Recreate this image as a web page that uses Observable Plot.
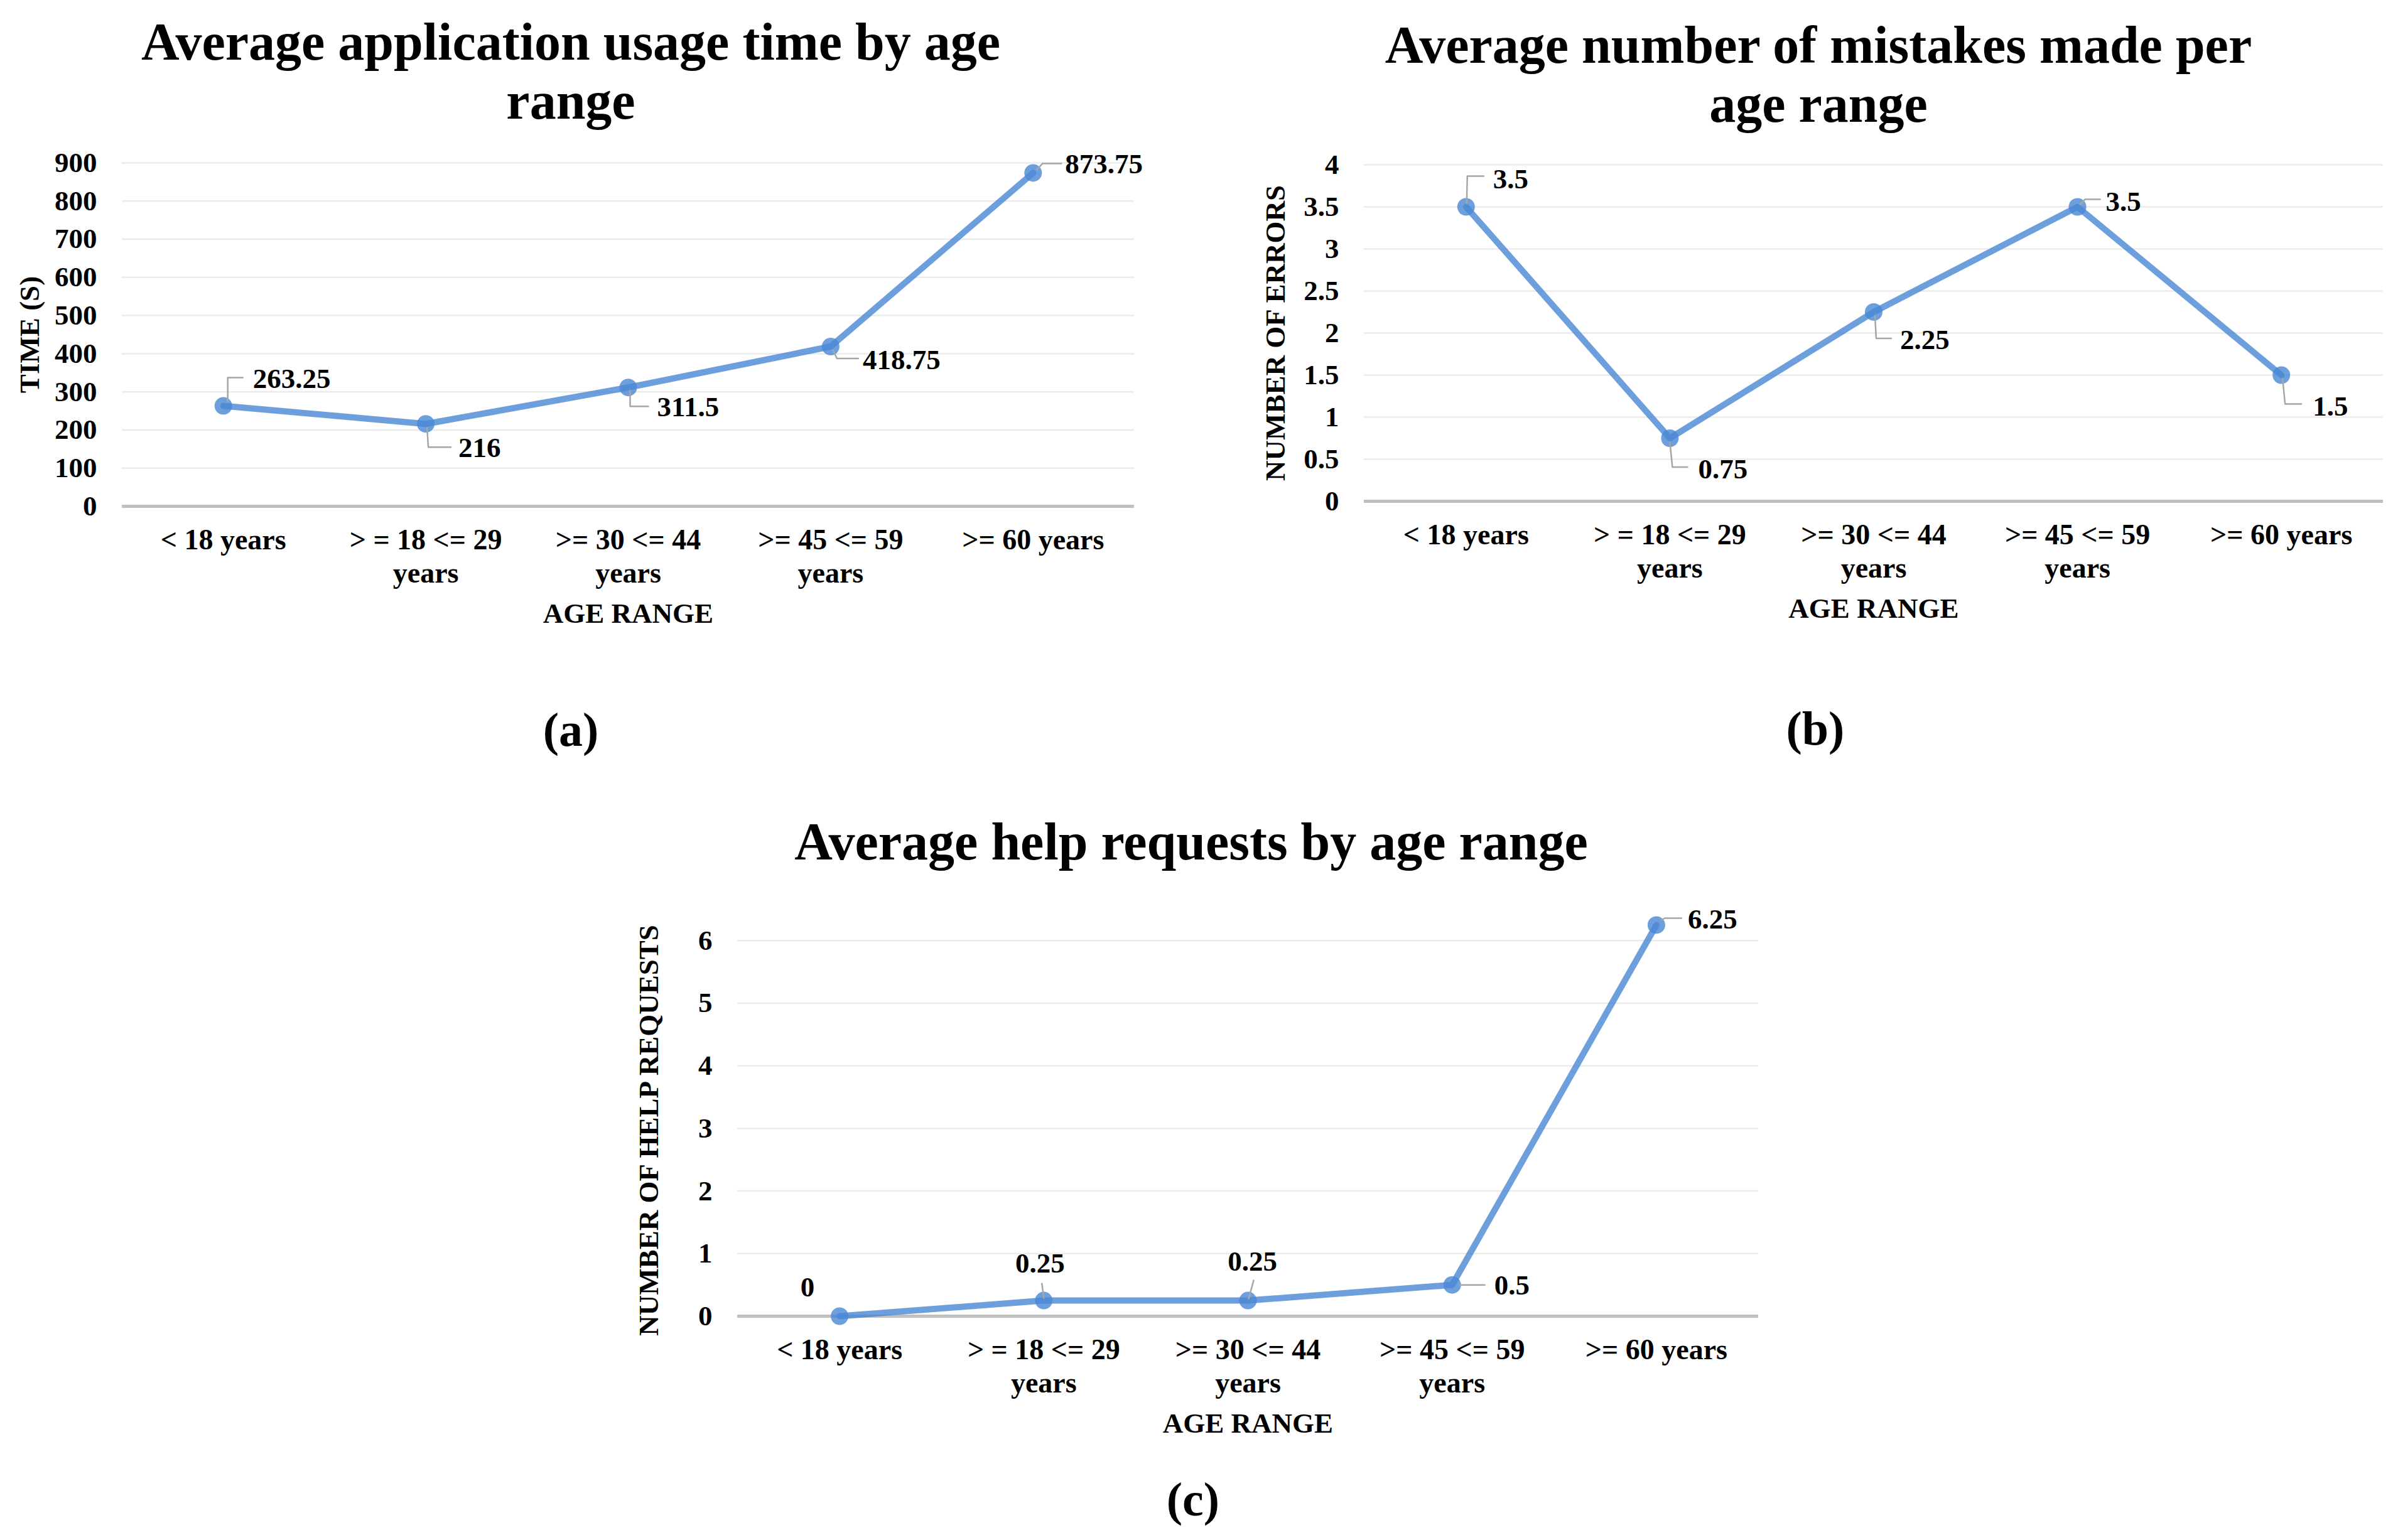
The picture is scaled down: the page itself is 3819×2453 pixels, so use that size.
<!DOCTYPE html>
<html><head><meta charset="utf-8">
<script src="https://cdn.jsdelivr.net/npm/d3@7"></script>
<script src="https://cdn.jsdelivr.net/npm/@observablehq/plot@0.6"></script>
<style>
html,body{margin:0;padding:0;background:#fff;}
#page{position:relative;width:3819px;height:2453px;background:#fff;font-family:"Liberation Serif","Times New Roman",serif;font-weight:bold;color:#000;overflow:hidden}
.title{position:absolute;width:2000px;text-align:center;font-size:84px;line-height:94px;white-space:nowrap}
.tag{position:absolute;width:400px;font-size:76px;line-height:76px;text-align:center}
.panel{position:absolute}
</style></head><body><div id="page"></div>
<script>
// ---- data ----
const categories = ["< 18 years", "> = 18 <= 29\nyears", ">= 30 <= 44\nyears", ">= 45 <= 59\nyears", ">= 60 years"];
const usageTime = [263.25, 216, 311.5, 418.75, 873.75];
const mistakes = [3.5, 0.75, 2.25, 3.5, 1.5];
const helpRequests = [0, 0.25, 0.25, 0.5, 6.25];
const ticksA = [0, 100, 200, 300, 400, 500, 600, 700, 800, 900];
const ticksB = [0, 0.5, 1, 1.5, 2, 2.5, 3, 3.5, 4];
const ticksC = [0, 1, 2, 3, 4, 5, 6];
const titleA = "Average application usage time by age<br>range";
const titleB = "Average number of mistakes made per<br>age range";
const titleC = "Average help requests by age range";
const yTitleA = "TIME (S)";
const yTitleB = "NUMBER OF ERRORS";
const yTitleC = "NUMBER OF HELP REQUESTS";
const xTitle = "AGE RANGE";

// ---- label placement styles (pixel offsets from the point) ----
const labelStyleA = [
  {leader: [[7,-6],[7,-45],[31,-45]], lx: 47, ly: -43, anchor: "start"},
  {leader: [[2,6],[4,37],[40,37]], lx: 52, ly: 38, anchor: "start"},
  {leader: [[3,5],[3,30],[32,30]], lx: 46, ly: 31, anchor: "start"},
  {leader: [[4,6],[10,19],[44,19]], lx: 51, ly: 22, anchor: "start"},
  {leader: [[6,-5],[15,-15],[45,-15]], lx: 51, ly: -14, anchor: "start"}
];
const labelStyleB = [
  {leader: [[1,-6],[2,-49],[28,-49]], lx: 43, ly: -44, anchor: "start"},
  {leader: [[0,6],[4,46],[28,46]], lx: 45, ly: 50, anchor: "start"},
  {leader: [[2,6],[4,42],[28,42]], lx: 42, ly: 45, anchor: "start"},
  {leader: [[4,-4],[12,-12],[36,-12]], lx: 45, ly: -8, anchor: "start"},
  {leader: [[2,6],[6,46],[32,46]], lx: 50, ly: 50, anchor: "start"}
];
const labelStyleC = [
  {leader: [], lx: -51, ly: -46, anchor: "middle"},
  {leader: [[-3,-27],[0,-4]], lx: -6, ly: -59, anchor: "middle"},
  {leader: [[9,-32],[1,-3]], lx: 7, ly: -62, anchor: "middle"},
  {leader: [[12,0],[52,0]], lx: 67, ly: 1, anchor: "start"},
  {leader: [[8,-8],[14,-11],[40,-11]], lx: 50, ly: -9, anchor: "start"}
];

const LINE = "#4a87d5";
const FONT = "Liberation Serif, Times New Roman, serif";

function makePanel({values, ticks, yMax, yTitle, width, height, margins, labelStyle, yTitleDx, yTitleDy}) {
  const [mt, mr, mb, ml] = margins;
  const pw = width - ml - mr, ph = height - mt - mb;
  const kx = categories.length / pw, ky = yMax / ph;
  const data = values.map((v, i) => ({i, v, label: String(v), ...labelStyle[i]}));
  const leaders = data.flatMap(d => d.leader.map(([ox, oy]) => ({id: d.i, x: d.i + ox * kx, y: d.v - oy * ky})));
  const lx = d => d.i + d.lx * kx, ly = d => d.v - d.ly * ky;
  return Plot.plot({
    width, height,
    marginTop: mt, marginRight: mr, marginBottom: mb, marginLeft: ml,
    style: {fontFamily: FONT, fontSize: "45px", fontWeight: "bold", background: "white", color: "black", overflow: "visible"},
    x: {domain: [-0.5, categories.length - 0.5], axis: null},
    y: {domain: [0, yMax], ticks, tickFormat: d => String(d), tickSize: 0, tickPadding: 40, label: null},
    marks: [
      Plot.ruleY(ticks.filter(t => t > 0), {stroke: "#ebebeb", strokeWidth: 2.5}),
      Plot.ruleY([0], {stroke: "#bfbfbf", strokeWidth: 5}),
      Plot.line(data, {x: "i", y: "v", stroke: LINE, strokeWidth: 10, strokeOpacity: 0.8}),
      Plot.dot(data, {x: "i", y: "v", r: 14, fill: LINE, fillOpacity: 0.8, stroke: "none"}),
      Plot.line(leaders, {x: "x", y: "y", z: "id", stroke: "#a6a6a6", strokeWidth: 2.5}),
      Plot.text(data.filter(d => d.anchor === "start"), {x: lx, y: ly, text: "label", textAnchor: "start", lineAnchor: "middle", fontSize: 45, fontWeight: "bold", fill: "black"}),
      Plot.text(data.filter(d => d.anchor === "middle"), {x: lx, y: ly, text: "label", textAnchor: "middle", lineAnchor: "middle", fontSize: 45, fontWeight: "bold", fill: "black"}),
      Plot.text(categories, {x: (d, i) => i, frameAnchor: "bottom", lineAnchor: "top", textAnchor: "middle", dy: 31, lineHeight: 1.15, fontSize: 46, fontWeight: "bold", fill: "black"}),
      Plot.text([xTitle], {frameAnchor: "bottom", lineAnchor: "middle", textAnchor: "middle", dy: 171, fontSize: 45, fontWeight: "bold", fill: "black"}),
      Plot.text([yTitle], {frameAnchor: "left", lineAnchor: "middle", textAnchor: "middle", dx: yTitleDx, dy: yTitleDy || 0, rotate: -90, fontSize: 45, fontWeight: "bold", fill: "black"})
    ]
  });
}

const page = document.getElementById("page");
function place(el, left, top, cls) {
  const d = document.createElement("div");
  d.className = cls;
  d.style.left = left + "px";
  d.style.top = top + "px";
  if (typeof el === "string") d.innerHTML = el; else d.appendChild(el);
  page.appendChild(d);
}

place(makePanel({values: usageTime, ticks: ticksA, yMax: 900, yTitle: yTitleA, width: 1840, height: 820,
  margins: [59, 34, 214, 194], labelStyle: labelStyleA, yTitleDx: -147}), 0, 200, "panel");
place(makePanel({values: mistakes, ticks: ticksB, yMax: 4, yTitle: yTitleB, width: 1859, height: 820,
  margins: [62, 24, 222, 212], labelStyle: labelStyleB, yTitleDx: -141}), 1960, 200, "panel");
place(makePanel({values: helpRequests, ticks: ticksC, yMax: 6.5, yTitle: yTitleC, width: 1880, height: 920,
  margins: [48, 40, 224, 214], labelStyle: labelStyleC, yTitleDx: -141, yTitleDy: 28}), 960, 1400, "panel");

place(titleA, 909 - 1000, 20, "title");
place(titleB, 2896 - 1000, 25, "title");
place(titleC, 1897 - 1000, 1294, "title");
place("(a)", 909 - 200, 1124, "tag");
place("(b)", 2891 - 200, 1122, "tag");
place("(c)", 1900 - 200, 2350, "tag");
</script>
</body></html>
